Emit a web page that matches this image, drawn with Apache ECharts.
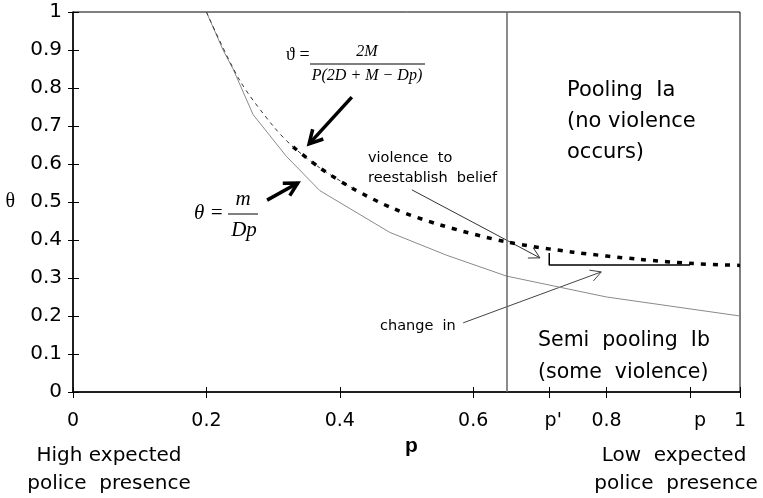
<!DOCTYPE html>
<html>
<head>
<meta charset="utf-8">
<script src="https://cdn.jsdelivr.net/npm/echarts@6/dist/echarts.min.js"></script>
<style>
  body { margin: 0; background: #fff; }
  #main { width: 763px; height: 498px; }
</style>
</head>
<body>
<div id="main"></div>
<script>
// ticks on the p axis (p' and p are the two thresholds)
const pPrime = 0.714;
const pHat = 0.925;
const pSplit = 0.652;
const xTickVals = [0, 0.2, 0.4, 0.6, pPrime, 0.8, pHat, 1];

// theta = m / (Dp)
const mDpP = [0.2, 0.225, 0.24, 0.27, 0.32, 0.37, 0.475, 0.56, 0.65, 0.8, 1.0];
const mDpTheta = [1.0, 0.9, 0.85, 0.73, 0.62, 0.53, 0.42, 0.36, 0.305, 0.25, 0.2];

// theta = 2M / (P(2D + M - Dp))
const bigP = [0.2, 0.25, 0.3, 0.33, 0.37, 0.42, 0.48, 0.55, 0.65, 0.75, 0.85, 0.93, 1.0];
const bigTheta = [1.0, 0.82, 0.70, 0.645, 0.59, 0.535, 0.483, 0.44, 0.395, 0.368, 0.349, 0.338, 0.333];

// change in belief bracket between p' and p
const stepP = [pPrime, pPrime, pHat];
const stepTheta = [0.366, 0.334, 0.334];

const zip = (xs, ys) => xs.map((x, i) => [x, ys[i]]);

const chart = echarts.init(document.getElementById('main'));

const sans = 'DejaVu Sans';
const serif = 'Liberation Serif, DejaVu Serif, serif';

let option = {
  animation: false,
  backgroundColor: '#fff',
  grid: { left: 73, right: 23, top: 12, bottom: 106, show: true, borderColor: '#000', borderWidth: 1 },
  xAxis: [{
    type: 'value', min: 0, max: 1, position: 'bottom',
    axisLine: { lineStyle: { color: '#000', width: 1.5 } },
    axisTick: { customValues: xTickVals, length: 6, lineStyle: { color: '#000' } },
    axisLabel: {
      customValues: xTickVals, margin: 20, fontFamily: sans, fontSize: 19, color: '#000',
      formatter: function(v) {
        if (v === pPrime) return "{pp|p'}";
        if (v === pHat) return '{ph|p}';
        return String(v);
      },
      rich: {
        pp: { fontFamily: sans, fontSize: 19, color: '#000', padding: [0, 0, 0, 8] },
        ph: { fontFamily: sans, fontSize: 19, color: '#000', padding: [0, 0, 0, 20] }
      }
    },
    splitLine: { show: false },
    name: 'p', nameLocation: 'middle', nameGap: 42,
    nameTextStyle: { fontFamily: 'Liberation Sans', fontWeight: 'bold', fontSize: 21, color: '#000', padding: [0, 0, 0, 10] }
  }, {
    type: 'value', min: 0, max: 1, position: 'bottom',
    axisLine: { show: false },
    axisTick: { inside: true, customValues: xTickVals, length: 5, lineStyle: { color: '#000' } },
    axisLabel: { show: false },
    splitLine: { show: false }
  }],
  yAxis: [{
    type: 'value', min: 0, max: 1, interval: 0.1,
    axisLine: { show: true, lineStyle: { color: '#000', width: 1.5 } },
    axisTick: { show: true, length: 5, lineStyle: { color: '#000' } },
    axisLabel: { margin: 11, fontFamily: sans, fontSize: 20, color: '#000' },
    splitLine: { show: false },
    name: 'θ', nameLocation: 'middle', nameRotate: 0, nameGap: 58,
    nameTextStyle: { fontFamily: serif, fontSize: 20, color: '#000' }
  }, {
    type: 'value', min: 0, max: 1, interval: 0.1, position: 'left',
    axisLine: { show: false },
    axisTick: { show: true, inside: true, length: 6, lineStyle: { color: '#000' } },
    axisLabel: { show: false },
    splitLine: { show: false }
  }],
  series: [{
    type: 'line', name: 'm/Dp', data: zip(mDpP, mDpTheta),
    symbol: 'none', lineStyle: { color: '#8a8a8a', width: 1 }
  }, {
    type: 'line', name: '2M/P(2D+M-Dp)', data: zip(bigP, bigTheta).filter(d => d[0] <= 0.42),
    smooth: 0.3, symbol: 'none', lineStyle: { color: '#333', width: 1, type: [4, 4] }
  }, {
    type: 'line', name: 'pooling bound', data: zip(bigP, bigTheta).filter(d => d[0] >= 0.33),
    smooth: 0.3, symbol: 'none', lineStyle: { color: '#000', width: 3.5, type: [5, 7] }
  }, {
    type: 'line', name: 'change', data: zip(stepP, stepTheta),
    symbol: 'none', lineStyle: { color: '#000', width: 1.5 },
    markLine: {
      silent: true, symbol: 'none', label: { show: false },
      lineStyle: { color: '#666', width: 1.5, type: 'solid' },
      data: [{ xAxis: pSplit }]
    }
  }]
};
chart.setOption(option);

// annotations, given in (p, theta)
const arrows = [
  { from: [0.418, 0.776], to: [0.354, 0.653], width: 3.5, head: 15, color: '#000' },
  { from: [0.291, 0.505], to: [0.337, 0.55], width: 3.5, head: 15, color: '#000' },
  { from: [0.508, 0.532], to: [0.700, 0.353], width: 1, head: 12, color: '#333' },
  { from: [0.585, 0.182], to: [0.792, 0.316], width: 1, head: 12, color: '#444' }
];

function px(pt) {
  return chart.convertToPixel({ xAxisIndex: 0, yAxisIndex: 0 }, pt);
}

let g = [];
arrows.forEach(a => {
  let s = px(a.from), e = px(a.to);
  let ang = Math.atan2(e[1] - s[1], e[0] - s[0]);
  let h1 = [e[0] - a.head * Math.cos(ang - 0.5), e[1] - a.head * Math.sin(ang - 0.5)];
  let h2 = [e[0] - a.head * Math.cos(ang + 0.5), e[1] - a.head * Math.sin(ang + 0.5)];
  g.push({ type: 'line', shape: { x1: s[0], y1: s[1], x2: e[0], y2: e[1] }, style: { stroke: a.color, lineWidth: a.width } });
  g.push({ type: 'polyline', shape: { points: [h1, e, h2] }, style: { stroke: a.color, lineWidth: a.width, fill: null } });
});

function txt(text, x, y, font, align) {
  return { type: 'text', style: { text: text, x: x, y: y, font: font, fill: '#000', textAlign: align || 'left', textVerticalAlign: 'middle' } };
}
function bar(x1, x2, y) {
  return { type: 'line', shape: { x1: x1, y1: y, x2: x2, y2: y }, style: { stroke: '#000', lineWidth: 1 } };
}

const f1 = 'italic 16px ' + serif;
const f2 = 'italic 21px ' + serif;
g.push(txt('ϑ =', 286, 55, '18px ' + serif));
g.push(txt('2M', 367, 52, f1, 'center'));
g.push(bar(310, 425, 64));
g.push(txt('P(2D + M − Dp)', 367, 76, f1, 'center'));

g.push(txt('θ =', 194, 213, f2));
g.push(txt('m', 243, 199, f2, 'center'));
g.push(bar(228, 258, 214));
g.push(txt('Dp', 244, 230, f2, 'center'));

const f13 = '14.5px ' + sans;
g.push(txt('violence  to', 368, 158, f13));
g.push(txt('reestablish  belief', 368, 178, f13));
g.push(txt('change  in', 380, 326, f13));

const f21 = '21px ' + sans;
g.push(txt('Pooling  Ia', 567, 91, f21));
g.push(txt('(no violence', 567, 122, f21));
g.push(txt('occurs)', 567, 153, f21));
const f205 = '20.5px ' + sans;
g.push(txt('Semi  pooling  Ib', 538, 341, f205));
g.push(txt('(some  violence)', 538, 373, f205));

const f20 = '20px ' + sans;
g.push(txt('High expected', 109, 456, f20, 'center'));
g.push(txt('police  presence', 109, 484, f20, 'center'));
g.push(txt('Low  expected', 674, 456, f20, 'center'));
g.push(txt('police  presence', 676, 484, f20, 'center'));

chart.setOption({ graphic: g });
</script>
</body>
</html>
